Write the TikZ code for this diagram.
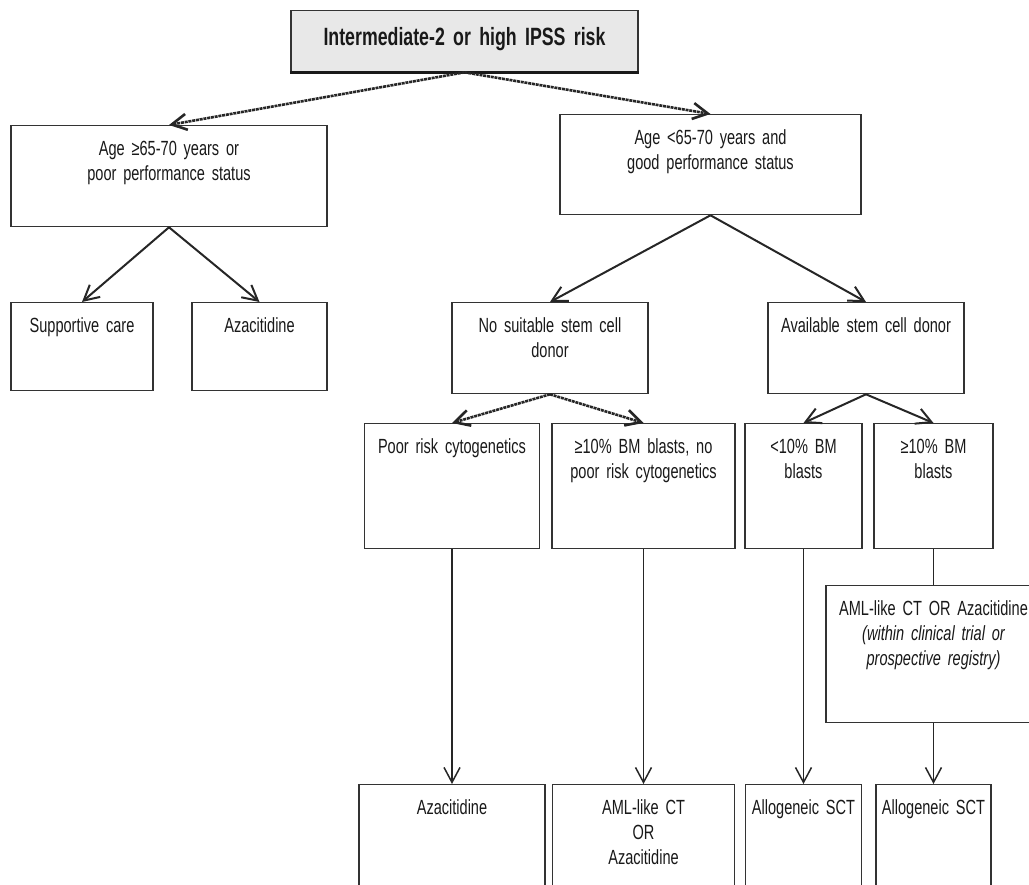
\documentclass[tikz,border=0pt]{standalone}
\usepackage{fontspec}
\setmainfont{Liberation Sans}[FakeStretch=0.71,WordSpace=0.7]
\usetikzlibrary{%
	arrows.meta
}
\newcommand\boxfont{\fontsize{20.5}{25}\selectfont}
\newcommand\riskfont{\fontsize{25}{29}\selectfont\bfseries}

\begin{document}
\begin{tikzpicture}[x=1pt,y=-1pt,
		SBox/.style={draw=black!80,line width=1.3pt,fill=white,shape=rectangle,anchor=north,align=center,inner xsep=0pt,inner ysep=12.5pt,font=\boxfont,text=black!90,execute at begin node=\strut},
		SRisk/.style={SBox,fill=black!9,font=\riskfont,inner ysep=14.7pt,append after command={(\tikzlastnode.south west) edge[line width=2.6pt,draw=black!90] (\tikzlastnode.south east)}},
		arr/.style={-{Straight Barb[length=15pt,width=16pt]}},
		solidarr/.style={arr,line width=2pt,draw=black!85},
		hatcharr/.style={arr,line width=2.6pt,draw=black!85,dash pattern=on 3pt off 0.8pt},
		downarr/.style={arr,line width=1.5pt,draw=black!85}
	]
	\useasboundingbox (0,0) rectangle (1029,885);
	\clip (0,0) rectangle (1029,885);

		%risk
		\node (risk) [SRisk,text width=347pt,text depth=11.3pt] at (464.5,10) {Intermediate-2 or high IPSS risk};

		%age
		\node (age-old) [SBox,text width=316pt,text depth=58.5pt] at (169,125) {Age ≥65-70 years or\\poor performance status};
		\node (age-young) [SBox,text width=301pt,text depth=57.5pt] at (710.5,114) {Age <65-70 years and\\good performance status};
		\draw [hatcharr] (risk.south) to (age-old.north);
		\draw [hatcharr] (risk.south) to (age-young.north);

		%old
		\node (t-supp) [SBox,text width=142pt,text depth=45.5pt] at (82,302) {Supportive care};
		\node (t-aza1) [SBox,text width=135pt,text depth=45.5pt] at (259.5,302) {Azacitidine};
		\draw [solidarr] (age-old.south) to (t-supp.north);
		\draw [solidarr] (age-old.south) to (t-aza1.north);

		%young
		\node (no-donor) [SBox,text width=196pt,text depth=48.5pt] at (550,302) {No suitable stem cell\\donor};
		\node (donor) [SBox,text width=196pt,text depth=48.5pt] at (866,302) {Available stem cell donor};
		\draw [solidarr] (age-young.south) to (no-donor.north);
		\draw [solidarr] (age-young.south) to (donor.north);

		%no donor
		\node (cyto-poor) [SBox,text width=175pt,text depth=82.5pt] at (452,423) {Poor risk cytogenetics};
		\node (blasts-np) [SBox,text width=183pt,text depth=82.5pt] at (643.5,423) {≥10\% BM blasts, no\\poor risk cytogenetics};
		\draw [hatcharr] (no-donor.south) to (cyto-poor.north);
		\draw [hatcharr] (no-donor.south) to (blasts-np.north);

		%donor
		\node (blasts-low) [SBox,text width=117pt,text depth=82.5pt] at (803.5,423) {<10\% BM\\blasts};
		\node (blasts-high) [SBox,text width=119pt,text depth=82.5pt] at (933.5,423) {≥10\% BM\\blasts};
		\draw [solidarr] (donor.south) to (blasts-low.north);
		\draw [solidarr] (donor.south) to (blasts-high.north);

		\node (aml-ct) [SBox,text width=215pt,text depth=94.5pt] at (933.5,585) {AML-like CT OR Azacitidine\\{\itshape (within clinical trial or}\\{\itshape prospective registry)}};
		\draw [line width=1.5pt,draw=black!85] (blasts-high.south) to (aml-ct.north);

		%treatment
		\node (t-aza2) [SBox,text width=186pt,text depth=78.5pt] at (452,784) {Azacitidine};
		\node (t-aml-aza) [SBox,text width=182pt,text depth=78.5pt] at (643.5,784) {AML-like CT\\OR\\Azacitidine};
		\node (t-allo1) [SBox,text width=116pt,text depth=78.5pt] at (803.5,784) {Allogeneic SCT};
		\node (t-allo2) [SBox,text width=115pt,text depth=78.5pt] at (933.5,784) {Allogeneic SCT};
		\draw [downarr] (cyto-poor.south) to (t-aza2.north);
		\draw [downarr] (blasts-np.south) to (t-aml-aza.north);
		\draw [downarr] (blasts-low.south) to (t-allo1.north);
		\draw [downarr] (aml-ct.south) to (t-allo2.north);

\end{tikzpicture}
\end{document}
